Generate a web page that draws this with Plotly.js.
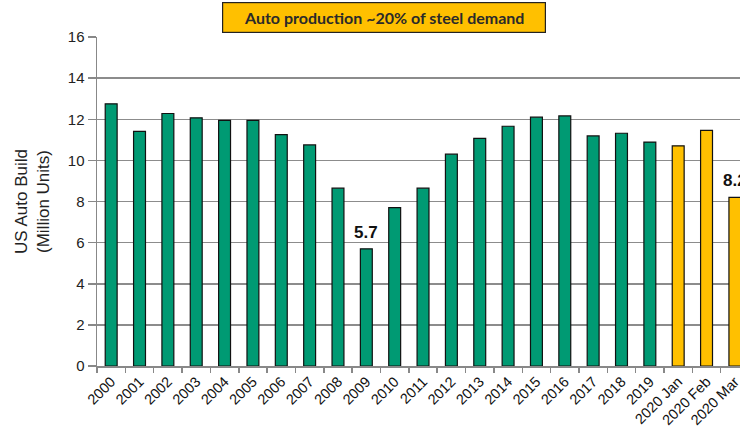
<!DOCTYPE html>
<html>
<head>
<meta charset="utf-8">
<script src="https://cdn.plot.ly/plotly-3.0.1.min.js"></script>
<style>html,body{margin:0;padding:0;background:#fff;}#chart{width:740px;height:428px;}</style>
</head>
<body>
<div id="chart"></div>
<script>
const categories = ["2000","2001","2002","2003","2004","2005","2006","2007","2008","2009","2010","2011","2012","2013","2014","2015","2016","2017","2018","2019","2020 Jan","2020 Feb","2020 Mar"];
const autoBuild = [12.75,11.41,12.28,12.07,11.95,11.95,11.25,10.75,8.65,5.7,7.7,8.65,10.3,11.07,11.66,12.1,12.16,11.19,11.32,10.89,10.71,11.46,8.2];
const barColors = ["#009A73","#009A73","#009A73","#009A73","#009A73","#009A73","#009A73","#009A73","#009A73","#009A73","#009A73","#009A73","#009A73","#009A73","#009A73","#009A73","#009A73","#009A73","#009A73","#009A73","#FFC000","#FFC000","#FFC000"];
const labelled = ["2009","2020 Mar"];
const yTicks = [0,2,4,6,8,10,12,14,16];
const chartTitle = "Auto production ~20% of steel demand";
const ARIAL = "'Liberation Sans', Arial, sans-serif";

const annotations = labelled.map(c => {
  const i = categories.indexOf(c);
  return {x: i, y: autoBuild[i], xref: 'x', yref: 'y', text: '<b>' + autoBuild[i].toFixed(1) + '</b>',
    showarrow: false, yanchor: 'bottom', yshift: 5,
    font: {family: ARIAL, size: 17, color: '#111'}};
});
annotations.push({
  xref: 'paper', yref: 'paper', x: 0.4456, y: 1.106, xanchor: 'center', yanchor: 'top',
  text: '<b>' + chartTitle + '</b>', showarrow: false,
  bgcolor: '#FFC000', bordercolor: '#222', borderwidth: 1.2, borderpad: 4,
  width: 314, height: 21,
  font: {family: "Lato, 'Open Sans', sans-serif", size: 16, color: '#2a2a2a'}
});

const trace = {
  type: 'bar', x: categories, y: autoBuild,
  marker: {color: barColors, line: {color: '#111', width: 1.2}},
  hoverinfo: 'none'
};

const layout = {
  width: 740, height: 428,
  margin: {l: 97, r: 0, t: 37, b: 62},
  paper_bgcolor: '#fff', plot_bgcolor: '#fff',
  bargap: 0.58,
  showlegend: false,
  font: {family: ARIAL},
  xaxis: {
    type: 'category', range: [-0.5, 22.18],
    tickangle: -45, tickson: 'boundaries', ticks: 'outside', ticklen: 5, tickcolor: '#888', tickwidth: 1.5,
    showline: true, linecolor: '#888', linewidth: 1.5, showgrid: false,
    tickfont: {family: ARIAL, size: 14.5, color: '#111'}
  },
  yaxis: {
    range: [0, 16], tickvals: yTicks, ticktext: yTicks.map(String),
    ticks: 'outside', ticklen: 8, tickcolor: '#888', tickwidth: 1.5,
    showline: true, linecolor: '#888', linewidth: 1.5,
    showgrid: true, gridcolor: '#8c8c8c', gridwidth: 1.5, zeroline: false,
    tickfont: {family: ARIAL, size: 15, color: '#222'},
    title: {text: 'US Auto Build<br>(Million Units)', standoff: 14,
      font: {family: ARIAL, size: 17, color: '#222'}}
  },
  annotations: annotations
};

Plotly.newPlot('chart', [trace], layout, {staticPlot: true, displayModeBar: false});
</script>
</body>
</html>
